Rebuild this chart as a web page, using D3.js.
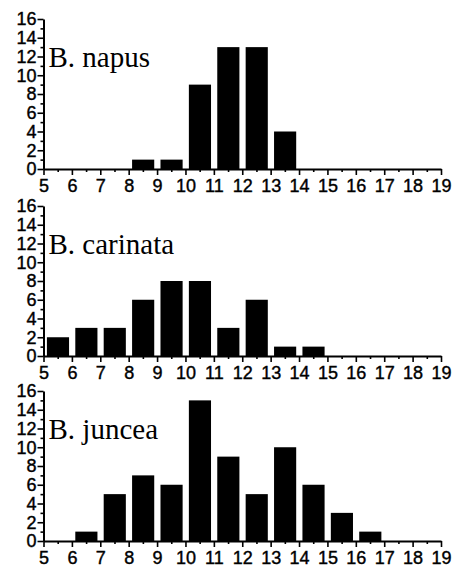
<!DOCTYPE html>
<html>
<head>
<meta charset="utf-8">
<script src="https://cdn.jsdelivr.net/npm/d3@7/dist/d3.min.js"></script>
<style>
body { margin: 0; background: #fff; }
svg { display: block; }
</style>
</head>
<body>
<div></div>
<script>
const WIDTH = 455;
const HEIGHT = 571;
const LEFT = 43.5;
const RIGHT = 441;
const PANEL_H = 150;
const PANEL_TOPS = [19, 206, 391];

// data
const bins = [5, 6, 7, 8, 9, 10, 11, 12, 13, 14, 15, 16, 17, 18];
const napus = [0, 0, 0, 1, 1, 9, 13, 13, 4, 0, 0, 0, 0, 0];
const carinata = [2, 3, 3, 6, 8, 8, 3, 6, 1, 1, 0, 0, 0, 0];
const juncea = [0, 1, 5, 7, 6, 15, 9, 5, 10, 6, 3, 1, 0, 0];
const names = ['B. napus', 'B. carinata', 'B. juncea'];
const series = [napus, carinata, juncea];
const xTicks = d3.range(5, 20);
const xMinor = d3.range(5.5, 19, 1);
const yTicks = [0, 2, 4, 6, 8, 10, 12, 14, 16];
const yMinor = [1, 3, 5, 7, 9, 11, 13, 15];

const div = d3.select('div');
const svg = div.append('svg')
    .attr('width', WIDTH)
    .attr('height', HEIGHT);

const x = d3.scaleLinear().domain([5, 19]).range([LEFT, RIGHT]);

series.forEach(function(values, i) {
    const top = PANEL_TOPS[i];
    const y = d3.scaleLinear().domain([0, 16]).range([top + PANEL_H, top]);
    const g = svg.append('g');

    // bars
    g.selectAll('rect')
        .data(bins)
        .enter().append('rect')
        .attr('x', function(d) { return x(d + 0.12); })
        .attr('width', function(d) { return x(d + 0.9) - x(d + 0.12); })
        .attr('y', function(d, j) { return y(values[j]); })
        .attr('height', function(d, j) { return y(0) - y(values[j]); })
        .attr('fill', '#000');

    // y axis
    g.append('g')
        .attr('transform', 'translate(' + LEFT + ',0)')
        .call(d3.axisLeft(y).tickValues(yTicks).tickSize(6).tickPadding(1).tickSizeOuter(0));
    g.append('g')
        .attr('transform', 'translate(' + LEFT + ',0)')
        .call(d3.axisLeft(y).tickValues(yMinor).tickSize(3).tickFormat('').tickSizeOuter(0))
        .select('.domain').remove();

    // x axis
    g.append('g')
        .attr('transform', 'translate(0,' + y(0) + ')')
        .call(d3.axisBottom(x).tickValues(xTicks).tickSize(6).tickPadding(4).tickSizeOuter(0));
    g.append('g')
        .attr('transform', 'translate(0,' + y(0) + ')')
        .call(d3.axisBottom(x).tickValues(xMinor).tickSize(3).tickFormat('').tickSizeOuter(0))
        .select('.domain').remove();

    g.selectAll('.domain').attr('stroke', '#000').attr('stroke-width', 2);
    g.selectAll('.tick line').attr('stroke', '#000').attr('stroke-width', 1.6);
    g.selectAll('.tick text')
        .attr('fill', '#000')
        .attr('stroke', '#000')
        .attr('stroke-width', 0.4)
        .style('font-family', '"Liberation Sans", Arial, sans-serif')
        .style('font-size', '18px');

    // species label
    g.append('text')
        .attr('x', LEFT + 5)
        .attr('y', y(0) - 102)
        .style('font-family', '"Liberation Serif", "Times New Roman", serif')
        .style('font-size', '29px')
        .attr('fill', '#000')
        .text(names[i]);
});
</script>
</body>
</html>
